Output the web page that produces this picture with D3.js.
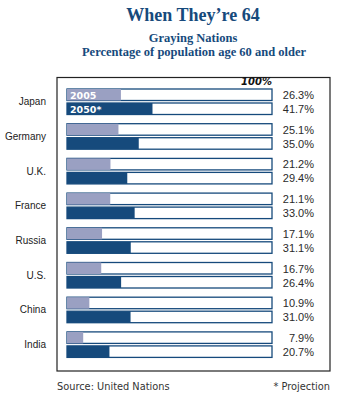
<!DOCTYPE html>
<html>
<head>
<meta charset="utf-8">
<script src="https://cdn.jsdelivr.net/npm/d3@7"></script>
<style>
  body { margin: 0; background: #fff; }
  svg { display: block; }
</style>
</head>
<body>
<div id="chart"></div>
<script>
const countries = ['Japan', 'Germany', 'U.K.', 'France', 'Russia', 'U.S.', 'China', 'India'];
const share2005 = [26.3, 25.1, 21.2, 21.1, 17.1, 16.7, 10.9, 7.9];
const share2050 = [41.7, 35.0, 29.4, 33.0, 31.1, 26.4, 31.0, 20.7];
const years = ['2005', '2050*'];

const width = 345;
const height = 397;
const navy = '#164a7c';
const lilac = '#9aa0c2';

const svg = d3.select('#chart').append('svg')
  .attr('width', width)
  .attr('height', height);

// headings
svg.append('text')
  .attr('x', 193).attr('y', 21)
  .attr('text-anchor', 'middle')
  .attr('font-family', 'Liberation Serif, serif')
  .attr('font-weight', 'bold')
  .attr('font-size', 18)
  .attr('fill', navy)
  .text('When They\u2019re 64');

svg.append('text')
  .attr('x', 193).attr('y', 42)
  .attr('text-anchor', 'middle')
  .attr('font-family', 'Liberation Serif, serif')
  .attr('font-weight', 'bold')
  .attr('font-size', 12.5)
  .attr('fill', navy)
  .text('Graying Nations');

svg.append('text')
  .attr('x', 194).attr('y', 55.5)
  .attr('text-anchor', 'middle')
  .attr('font-family', 'Liberation Serif, serif')
  .attr('font-weight', 'bold')
  .attr('font-size', 12.5)
  .attr('fill', navy)
  .text('Percentage of population age 60 and older');

// frame
svg.append('rect')
  .attr('x', 57).attr('y', 77.5)
  .attr('width', 273).attr('height', 293.5)
  .attr('fill', 'none')
  .attr('stroke', '#222')
  .attr('stroke-width', 1.2);

const x = d3.scaleLinear().domain([0, 100]).range([67, 272]);
const y = d3.scaleBand().domain(countries).range([89, 366.6]).paddingInner(0).paddingOuter(0);
const barH = 11.5;
const barGap = 2.5;

svg.append('text')
  .attr('x', x(100)).attr('y', 84.5)
  .attr('text-anchor', 'end')
  .attr('font-family', 'DejaVu Sans, Verdana, sans-serif')
  .attr('font-weight', 'bold')
  .attr('font-style', 'italic')
  .attr('font-size', 10)
  .attr('fill', '#111')
  .text('100%');

const rows = countries.map((c, i) => ({
  country: c,
  values: [share2005[i], share2050[i]]
}));

const group = svg.append('g')
  .selectAll('g')
  .data(rows)
  .join('g')
  .attr('transform', (d) => `translate(0,${y(d.country)})`);

group.append('text')
  .attr('x', 46)
  .attr('y', barH + barGap / 2 + 3.5)
  .attr('text-anchor', 'end')
  .attr('font-family', 'Liberation Sans, Arial, sans-serif')
  .attr('font-size', 10)
  .attr('fill', '#222')
  .text((d) => d.country);

const bar = group.selectAll('g.bar')
  .data((d) => d.values.map((v, k) => ({ v, k })))
  .join('g')
  .attr('class', 'bar')
  .attr('transform', (d) => `translate(0,${d.k * (barH + barGap)})`);

bar.append('rect')
  .attr('x', x(0))
  .attr('y', 0)
  .attr('width', x(100) - x(0))
  .attr('height', barH)
  .attr('fill', '#fff')
  .attr('stroke', navy)
  .attr('stroke-width', 1.3);

bar.append('rect')
  .attr('x', x(0))
  .attr('y', 0)
  .attr('width', (d) => x(d.v) - x(0))
  .attr('height', barH)
  .attr('fill', (d) => (d.k === 0 ? lilac : navy));

bar.append('text')
  .attr('x', 314)
  .attr('y', barH - 1.5)
  .attr('text-anchor', 'end')
  .attr('font-family', 'Liberation Sans, Arial, sans-serif')
  .attr('font-size', 11)
  .attr('fill', '#2a2a2a')
  .text((d) => d.v.toFixed(1) + '%');

// year keys inside the first pair of bars
group.filter((d, i) => i === 0)
  .selectAll('text.year')
  .data(years)
  .join('text')
  .attr('class', 'year')
  .attr('x', x(0) + 3)
  .attr('y', (d, k) => k * (barH + barGap) + barH - 2)
  .attr('font-family', 'DejaVu Sans, Verdana, sans-serif')
  .attr('font-weight', 'bold')
  .attr('font-size', 9.5)
  .attr('fill', '#fff')
  .text((d) => d);

// footer
svg.append('text')
  .attr('x', 57).attr('y', 390)
  .attr('font-family', 'DejaVu Sans, Verdana, sans-serif')
  .attr('font-size', 9.8)
  .attr('fill', '#333')
  .text('Source: United Nations');

svg.append('text')
  .attr('x', 330).attr('y', 390)
  .attr('text-anchor', 'end')
  .attr('font-family', 'DejaVu Sans, Verdana, sans-serif')
  .attr('font-size', 9.8)
  .attr('fill', '#333')
  .text('* Projection');
</script>
</body>
</html>
